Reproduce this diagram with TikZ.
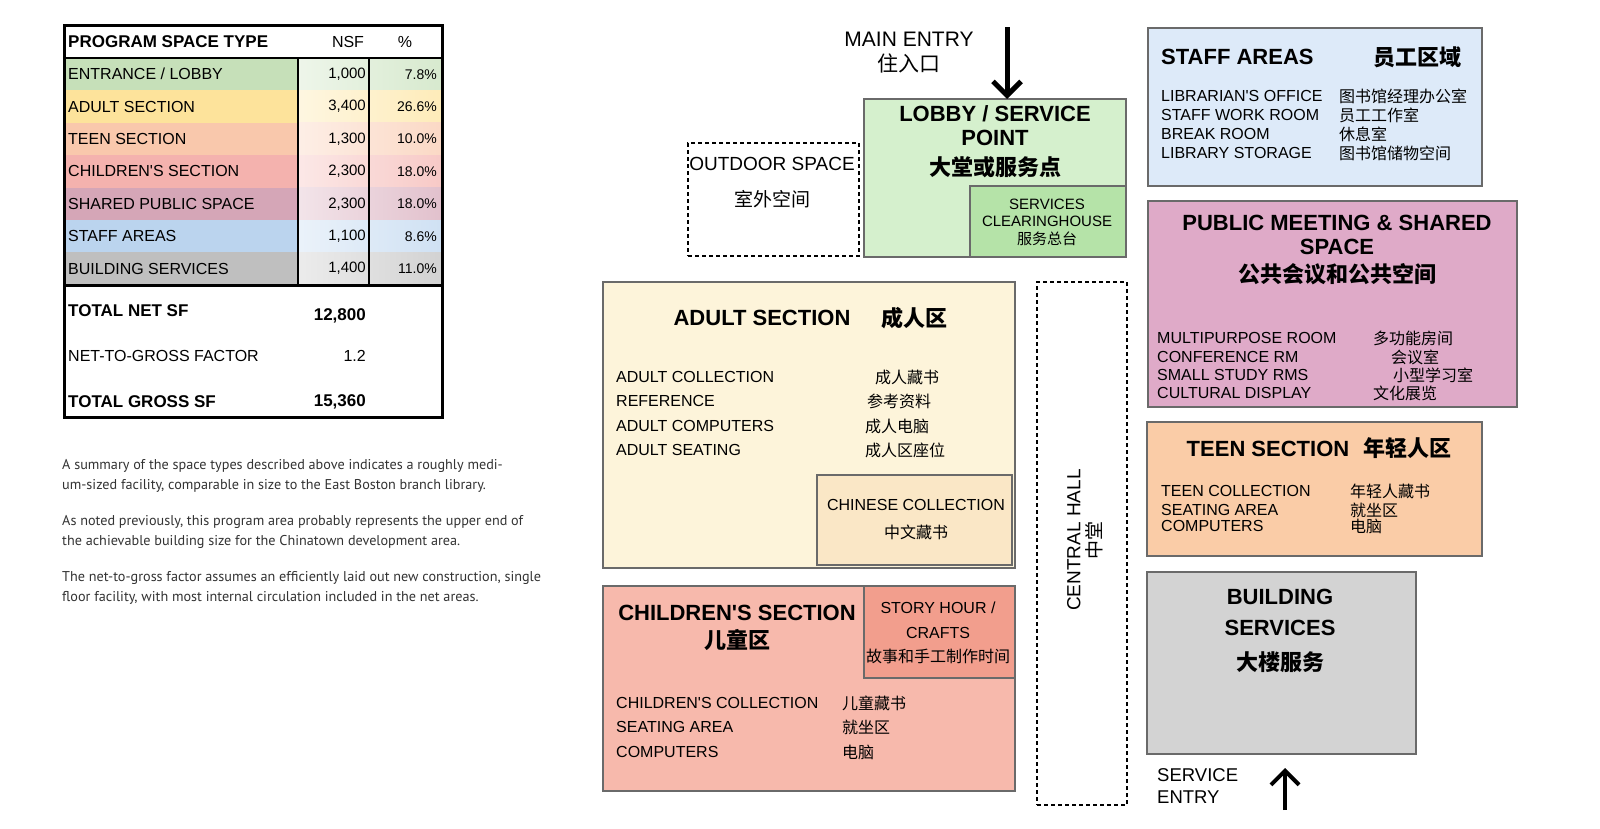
\documentclass[tikz,border=0pt]{standalone}
\usepackage{fontspec}
\setmainfont{Liberation Sans}[Ligatures=TeXOff]
\newfontfamily\cjk{Noto Sans CJK SC}
\newfontfamily\notefont{PT Sans}
\usetikzlibrary{arrows.meta}

\definecolor{roomline}{HTML}{6A6A6A}
\definecolor{entc}{HTML}{C6E0B9}
\definecolor{aduc}{HTML}{FDE39B}
\definecolor{teenc}{HTML}{F9C8AC}
\definecolor{chic}{HTML}{F4B2AE}
\definecolor{shrc}{HTML}{D5A6B7}
\definecolor{stfc}{HTML}{BBD4EE}
\definecolor{bldc}{HTML}{BFBFBF}
\definecolor{lobbyfill}{HTML}{D5F0CD}
\definecolor{clrfill}{HTML}{B5E3A8}
\definecolor{stafffill}{HTML}{DDEAF9}
\definecolor{pubfill}{HTML}{DFAAC8}
\definecolor{adultfill}{HTML}{FDF4DA}
\definecolor{chnfill}{HTML}{FAE7C6}
\definecolor{kidsfill}{HTML}{F7B9AC}
\definecolor{storyfill}{HTML}{F29E8D}
\definecolor{teenfill}{HTML}{FACCA7}
\definecolor{bldgfill}{HTML}{D3D3D3}
\definecolor{notegray}{HTML}{333333}

\newcommand\fsz[2]{\fontsize{#1}{#2}\selectfont}
\newcommand\zh[1]{{\cjk #1}}

\begin{document}
\begin{tikzpicture}[x=1pt,y=-1pt,
  room/.style={draw=roomline, line width=1.2pt, anchor=north west, inner sep=0pt, outer sep=0pt},
  openarea/.style={draw, dash pattern=on 4pt off 3pt, line width=1.3pt, anchor=north west, inner sep=0pt, outer sep=0pt},
  ttl/.style={font=\bfseries\fsz{22}{24}, align=center, inner sep=0pt},
  lst/.style={font=\fsz{16}{19}, anchor=west, inner sep=0pt},
  cell/.style={font=\fsz{16}{18}, inner sep=0pt},
  note/.style={font=\notefont\fsz{14.2}{20}, text=notegray, align=left, anchor=west, inner sep=0pt},
  entryarrow/.style={line width=5pt, -{Straight Barb[length=14pt,width=28pt]}}]
 \useasboundingbox (0,0) rectangle (1600,828);
 \fill[white] (0,0) rectangle (1600,828);

 % program table
 \foreach \lbl/\nsf/\pct/\c [count=\i from 0] in {{ENTRANCE / LOBBY}/{1,000}/7.8/entc,
   {ADULT SECTION}/{3,400}/26.6/aduc, {TEEN SECTION}/{1,300}/10.0/teenc,
   {CHILDREN'S SECTION}/{2,300}/18.0/chic, {SHARED PUBLIC SPACE}/{2,300}/18.0/shrc,
   {STAFF AREAS}/{1,100}/8.6/stfc, {BUILDING SERVICES}/{1,400}/11.0/bldc}{
  \pgfmathsetmacro\yt{58+32.4*\i}
  \fill[\c] (64,\yt) rectangle (298,\yt+32.4);
  \shade[left color=\c!30!white, right color=\c!70!white] (298,\yt) rectangle (442,\yt+32.4);
  \node[cell, anchor=west] (row\i) at (68,\yt+16.2) {\lbl};
  \node[cell, anchor=east, font=\fsz{15}{17}] (nsf\i) at (366,\yt+16.2) {\nsf};
  \node[cell, anchor=east, font=\fsz{14}{16}] (pct\i) at (437,\yt+16.2) {\pct\%};
 }
 \draw[line width=2pt] (298,58) -- (298,285) (369,58) -- (369,285);
 \draw[line width=2pt] (64,58) -- (442,58);
 \draw[line width=3pt] (64,285) -- (442,285);
 \draw[line width=3pt] (64,25) rectangle (442,417);
 \node[cell, anchor=west, font=\bfseries\fsz{17}{19}] (hdrtype) at (68,42) {PROGRAM SPACE TYPE};
 \node[cell] (hdrnsf) at (348,42) {NSF};
 \node[cell] (hdrpct) at (405,42) {\%};
 \node[cell, anchor=west, font=\bfseries\fsz{17}{19}] (netlbl) at (68,311) {TOTAL NET SF};
 \node[cell, anchor=east, font=\bfseries\fsz{17}{19}] (netval) at (366,316) {12,800};
 \node[cell, anchor=west] (factlbl) at (68,356) {NET-TO-GROSS FACTOR};
 \node[cell, anchor=east] (factval) at (366,356) {1.2};
 \node[cell, anchor=west, font=\bfseries\fsz{17}{19}] (grosslbl) at (68,402) {TOTAL GROSS SF};
 \node[cell, anchor=east, font=\bfseries\fsz{17}{19}] (grossval) at (366,402) {15,360};

 % notes
 \node[note] (note1) at (62,476) {A summary of the space types described above indicates a roughly medi-\\um-sized facility, comparable in size to the East Boston branch library.};
 \node[note] (note2) at (62,532) {As noted previously, this program area probably represents the upper end of\\the achievable building size for the Chinatown development area.};
 \node[note] (note3) at (62,588) {The net-to-gross factor assumes an efficiently laid out new construction, single\\floor facility, with most internal circulation included in the net areas.};

 % rooms
 \node[room, fill=lobbyfill, minimum width=262pt, minimum height=158pt] (lobby) at (864,99) {};
 \node[room, fill=clrfill, minimum width=156pt, minimum height=71pt] (clearing) at (970,186) {};
 \node[openarea, minimum width=171pt, minimum height=113pt] (outdoor) at (688,143) {};
 \node[room, fill=stafffill, minimum width=334pt, minimum height=158pt] (staff) at (1148,28) {};
 \node[room, fill=pubfill, minimum width=369pt, minimum height=206pt] (pubmeet) at (1148,201) {};
 \node[room, fill=adultfill, minimum width=412pt, minimum height=286pt] (adult) at (603,282) {};
 \node[room, fill=chnfill, minimum width=195pt, minimum height=90pt] (chinese) at (817,475) {};
 \node[room, fill=kidsfill, minimum width=412pt, minimum height=205pt] (kids) at (603,586) {};
 \node[room, fill=storyfill, minimum width=151pt, minimum height=92pt] (story) at (864,586) {};
 \node[openarea, minimum width=90pt, minimum height=523pt] (hall) at (1037,282) {};
 \node[room, fill=teenfill, minimum width=335pt, minimum height=134pt] (teen) at (1147,422) {};
 \node[room, fill=bldgfill, minimum width=269pt, minimum height=182pt] (bldg) at (1147,572) {};

 % entries
 \node[align=center, font=\fsz{21}{25}, inner sep=0pt] (maintxt) at (909,53) {MAIN ENTRY\\\zh{住入口}};
 \coordinate (mainin) at (1007,27);
 \draw[entryarrow] (mainin) -- (mainin |- lobby.north);
 \node[align=left, font=\fsz{18.5}{22}, anchor=west, inner sep=0pt] (srvtxt) at (1157,786) {SERVICE\\ENTRY};
 \coordinate (srvin) at (1285,810);
 \draw[entryarrow, line width=4pt, shorten >=14pt] (srvin) -- (srvin |- bldg.south);

 % lobby and outdoor
 \node[ttl] (lobbyttl) at (995,126) {LOBBY / SERVICE\\POINT};
 \node[ttl] (lobbyzh) at (995,167) {\zh{大堂或服务点}};
 \node[align=center, font=\fsz{15}{17.5}, inner sep=0pt] (clrtxt) at (1047,222) {SERVICES\\CLEARINGHOUSE\\\zh{服务总台}};
 \node[font=\fsz{19}{21}, inner sep=0pt] (outtxt) at (772,164) {OUTDOOR SPACE};
 \node[font=\fsz{19}{21}, inner sep=0pt] (outzh) at (772,199) {\zh{室外空间}};

 % staff
 \node[ttl, anchor=west] (staffttl) at (1161,57) {STAFF AREAS};
 \node[ttl] (staffzh) at (1417,57) {\zh{员工区域}};
 \foreach \en/\cn/\y [count=\k] in {LIBRARIAN'S OFFICE/图书馆经理办公室/96, STAFF WORK ROOM/员工工作室/115,
   BREAK ROOM/休息室/134, LIBRARY STORAGE/图书馆储物空间/153}{
  \node[lst] (staff\k) at (1161,\y) {\en};
  \node[lst] (staffzh\k) at (1339,\y) {\zh{\cn}};
 }

 % public meeting
 \node[ttl] (pubttl) at (1337,235) {PUBLIC MEETING \& SHARED\\SPACE};
 \node[ttl] (pubzh) at (1337,274) {\zh{公共会议和公共空间}};
 \foreach \en/\cn/\y/\zx [count=\k] in {MULTIPURPOSE ROOM/多功能房间/338/1373, CONFERENCE RM/会议室/357/1391,
   SMALL STUDY RMS/小型学习室/375/1393, CULTURAL DISPLAY/文化展览/393/1373}{
  \node[lst] (pub\k) at (1157,\y) {\en};
  \node[lst] (pubzh\k) at (\zx,\y) {\zh{\cn}};
 }

 % adult
 \node[ttl] (adultttl) at (762,318) {ADULT SECTION};
 \node[ttl] (adultzh) at (914,318) {\zh{成人区}};
 \foreach \en/\cn/\y/\zx [count=\k] in {ADULT COLLECTION/成人藏书/377/875, REFERENCE/参考资料/401/867,
   ADULT COMPUTERS/成人电脑/426/865, ADULT SEATING/成人区座位/450/865}{
  \node[lst] (adult\k) at (616,\y) {\en};
  \node[lst] (adultzh\k) at (\zx,\y) {\zh{\cn}};
 }
 \node[font=\fsz{16}{18}, inner sep=0pt] (chntxt) at (916,505) {CHINESE COLLECTION};
 \node[font=\fsz{16}{18}, inner sep=0pt] (chnzh) at (916,532) {\zh{中文藏书}};

 % children
 \node[ttl] (kidsttl) at (737,613) {CHILDREN'S SECTION};
 \node[ttl] (kidszh) at (737,640) {\zh{儿童区}};
 \node[align=center, font=\fsz{16}{24.5}, inner sep=0pt] (storytxt) at (938,633) {STORY HOUR /\\CRAFTS\\\zh{故事和手工制作时间}};
 \foreach \en/\cn/\y [count=\k] in {CHILDREN'S COLLECTION/儿童藏书/703, SEATING AREA/就坐区/727, COMPUTERS/电脑/752}{
  \node[lst] (kids\k) at (616,\y) {\en};
  \node[lst] (kidszh\k) at (842,\y) {\zh{\cn}};
 }

 % central hall
 \node[rotate=90, align=center, font=\fsz{19}{21}, inner sep=0pt] (halltxt) at (1085,540) {CENTRAL HALL\\\zh{中堂}};

 % teen
 \node[ttl] (teenttl) at (1319,448) {TEEN SECTION\hspace{14pt}\zh{年轻人区}};
 \foreach \en/\cn/\y [count=\k] in {TEEN COLLECTION/年轻人藏书/491, SEATING AREA/就坐区/510, COMPUTERS/电脑/526}{
  \node[lst] (teen\k) at (1161,\y) {\en};
  \node[lst] (teenzh\k) at (1350,\y) {\zh{\cn}};
 }

 % building services
 \node[ttl, font=\bfseries\fsz{22}{31}] (bldgttl) at (1280,612) {BUILDING\\SERVICES};
 \node[ttl] (bldgzh) at (1280,662) {\zh{大楼服务}};
\end{tikzpicture}
\end{document}
